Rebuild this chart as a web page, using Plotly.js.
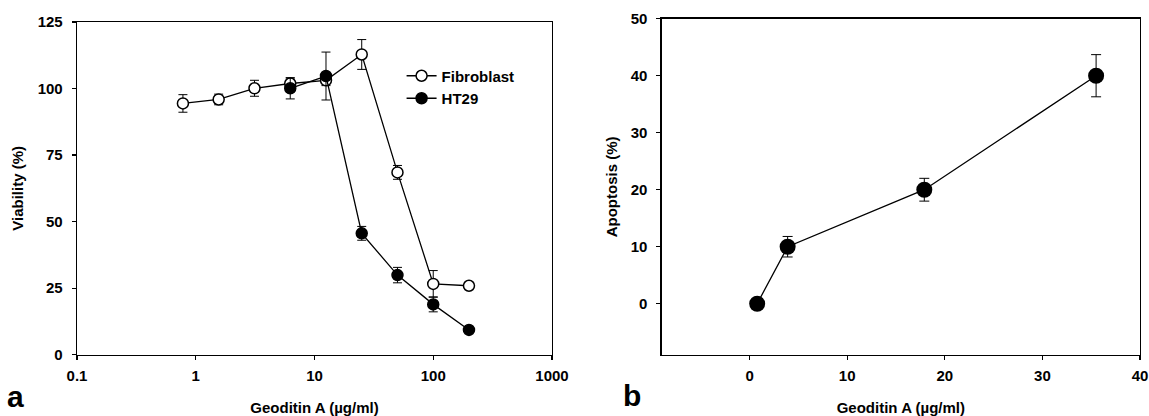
<!DOCTYPE html>
<html>
<head>
<meta charset="utf-8">
<script src="https://cdn.plot.ly/plotly-3.0.1.min.js"></script>
<style>html,body{margin:0;padding:0;background:#fff;}#chart{width:1149px;height:416px;}</style>
</head>
<body>
<div id="chart"></div>
<script>
// Panel a: viability
const fibX = [0.78, 1.56, 3.125, 6.25, 12.5, 25, 50, 100, 200];
const fibY = [94.4, 95.9, 100.1, 101.9, 103.1, 112.8, 68.5, 26.6, 25.9];
const fibErr = [3.3, 2.0, 3.0, 2.0, 2.0, 5.6, 2.6, 5.0, 1.0];
const ht29X = [6.25, 12.5, 25, 50, 100, 200];
const ht29Y = [100.1, 104.7, 45.6, 29.9, 18.9, 9.3];
const ht29Err = [4.0, 9.0, 2.6, 2.9, 2.8, 0.5];
const xTicksA = [0.1, 1, 10, 100, 1000];
const xTickTextA = ['0.1', '1', '10', '100', '1000'];
const yTicksA = [0, 25, 50, 75, 100, 125];

// Panel b: apoptosis
const apoX = [0.78, 3.9, 17.9, 35.5];
const apoY = [0, 10, 20, 40];
const apoErr = [0, 1.8, 2.0, 3.7];
const xTicksB = [0, 10, 20, 30, 40];
const yTicksB = [0, 10, 20, 30, 40, 50];

const F = {family: 'Liberation Sans, Arial, sans-serif', color: '#000', weight: 'bold'};
const tickFont = Object.assign({}, F, {size: 15});
const titleFont = Object.assign({}, F, {size: 15});

const errA = (arr) => ({type: 'data', array: arr, visible: true, color: '#000', thickness: 1, width: 4.5});

const traces = [
  {x: fibX, y: fibY, name: 'Fibroblast', type: 'scatter', mode: 'lines+markers',
   xaxis: 'x', yaxis: 'y', error_y: errA(fibErr),
   line: {color: '#000', width: 1.3},
   marker: {symbol: 'circle', size: 11, color: '#fff', line: {color: '#000', width: 1.5}}},
  {x: ht29X, y: ht29Y, name: 'HT29', type: 'scatter', mode: 'lines+markers',
   xaxis: 'x', yaxis: 'y', error_y: errA(ht29Err),
   line: {color: '#000', width: 1.3},
   marker: {symbol: 'circle', size: 11, color: '#000', line: {color: '#000', width: 1.5}}},
  {x: apoX, y: apoY, name: 'Apoptosis', type: 'scatter', mode: 'lines+markers',
   xaxis: 'x2', yaxis: 'y2', showlegend: false,
   error_y: {type: 'data', array: apoErr, visible: true, color: '#000', thickness: 1, width: 5},
   line: {color: '#000', width: 1.3},
   marker: {symbol: 'circle', size: 16, color: '#000'}}
];

const axisCommon = {
  showline: true, linecolor: '#000', linewidth: 1.3, mirror: true,
  ticks: 'outside', ticklen: 4, tickwidth: 1.2, tickcolor: '#000',
  showgrid: false, zeroline: false, tickfont: tickFont, fixedrange: true
};

const layout = {
  width: 1149, height: 416,
  margin: {l: 0, r: 0, t: 0, b: 0},
  paper_bgcolor: '#fff', plot_bgcolor: '#fff',
  showlegend: true,
  legend: {x: 0.3495, y: 0.857, xanchor: 'left', yanchor: 'top',
           font: Object.assign({}, F, {size: 15}), bgcolor: 'rgba(0,0,0,0)',
           tracegroupgap: 0, itemwidth: 30},
  xaxis: Object.assign({}, axisCommon, {
    domain: [0.0670, 0.4804], anchor: 'y', type: 'log', range: [-1, 3],
    tickvals: xTicksA, ticktext: xTickTextA, ticklabelstandoff: 3,
    title: {text: 'Geoditin A (µg/ml)', font: titleFont, standoff: 19}
  }),
  yaxis: Object.assign({}, axisCommon, {
    domain: [0.1474, 0.9471], anchor: 'x', range: [0, 125],
    tickvals: yTicksA, ticklabelstandoff: 6,
    title: {text: 'Viability (%)', font: titleFont, standoff: 10.5}
  }),
  xaxis2: Object.assign({}, axisCommon, {
    domain: [0.5759, 0.9922], anchor: 'y2', range: [-9, 40],
    tickvals: xTicksB, ticklabelstandoff: 3,
    title: {text: 'Geoditin A (µg/ml)', font: titleFont, standoff: 19}
  }),
  yaxis2: Object.assign({}, axisCommon, {
    domain: [0.1466, 0.955], anchor: 'x2', range: [-9, 50],
    tickvals: yTicksB, ticklabelstandoff: 6,
    title: {text: 'Apoptosis (%)', font: titleFont, standoff: 9}
  }),
  annotations: [
    {text: 'a', xref: 'paper', yref: 'paper', x: 15 / 1149, y: 1 - 396 / 416,
     xanchor: 'center', yanchor: 'middle', showarrow: false, font: Object.assign({}, F, {size: 30})},
    {text: 'b', xref: 'paper', yref: 'paper', x: 632 / 1149, y: 1 - 395 / 416,
     xanchor: 'center', yanchor: 'middle', showarrow: false, font: Object.assign({}, F, {size: 30})}
  ]
};

Plotly.newPlot('chart', traces, layout, {displayModeBar: false, staticPlot: true});
</script>
</body>
</html>
